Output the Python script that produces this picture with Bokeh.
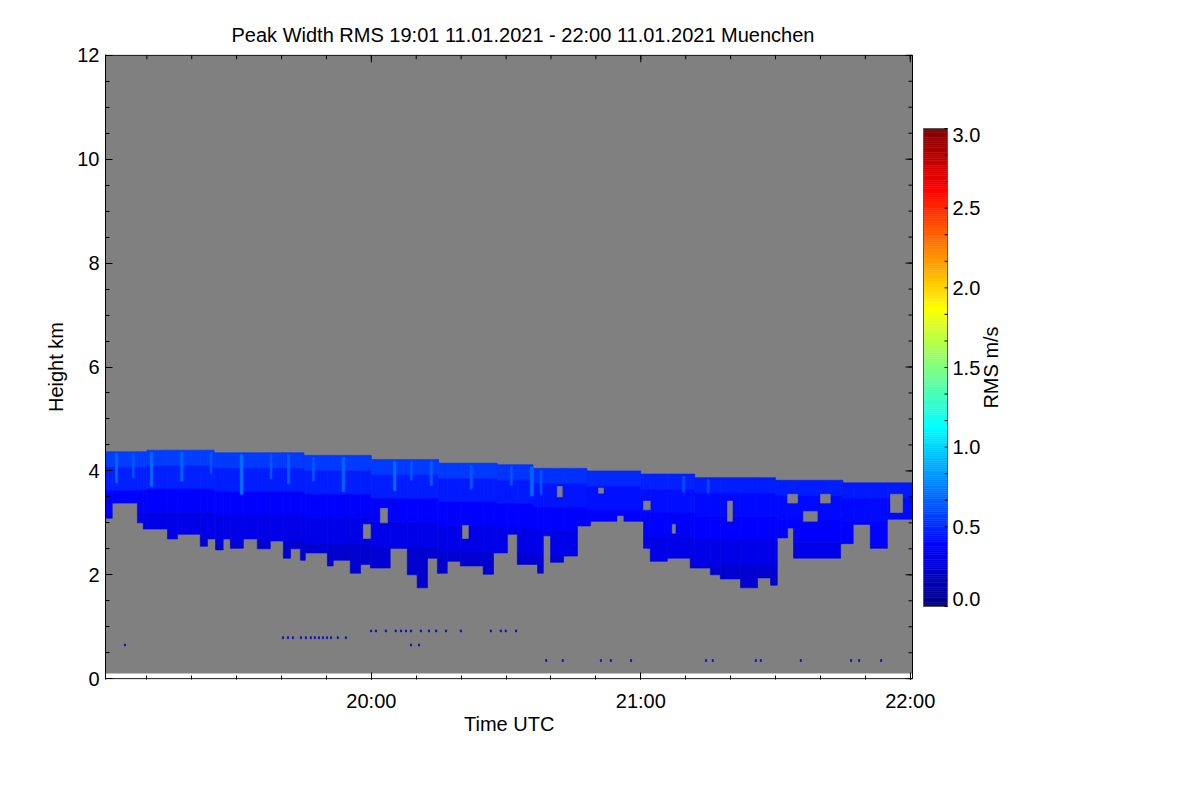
import numpy as np
from bokeh.plotting import figure
from bokeh.models import Range1d, FixedTicker, LinearAxis, ColumnDataSource, Title
from bokeh.transform import linear_cmap
from bokeh.embed import file_html
from bokeh.resources import INLINE
from bokeh.core.properties import value

# ---------------- data ----------------
title_text = "Peak Width RMS   19:01 11.01.2021 - 22:00 11.01.2021 Muenchen"
x_label = "Time UTC"
y_label = "Height km"
cbar_label = "RMS m/s"

scan_start_min = 0.8      # minutes after 19:00 UTC
scan_end_min = 180.5
lowest_gate_km = 0.1
highest_gate_km = 12.0

tick_minutes = [60, 120, 180]
tick_labels = ["20:00", "21:00", "22:00"]
minor_tick_minutes = list(range(10, 181, 10))
height_ticks = [0, 2, 4, 6, 8, 10, 12]
height_minor_ticks = [i * 0.5 for i in range(25)]

rms_min, rms_max = 0.0, 3.0
cbar_levels = [0.0, 0.5, 1.0, 1.5, 2.0, 2.5, 3.0]

# cloud top (segment start time, height) and RMS of the two upper layers
top_start_min = [0.8, 10, 25, 45, 60, 75, 88, 96, 108, 120, 132, 150, 165]
top_km = [4.37, 4.40, 4.35, 4.30, 4.22, 4.15, 4.12, 4.05, 4.00, 3.94, 3.87, 3.82, 3.77]
top_layer_rms = [0.56, 0.56, 0.55, 0.55, 0.54, 0.54, 0.53, 0.52, 0.50, 0.48, 0.46, 0.46, 0.45]
second_layer_rms = [0.47, 0.47, 0.46, 0.46, 0.46, 0.45, 0.45, 0.44, 0.43, 0.42, 0.41, 0.41, 0.41]

# depth of layers below the cloud top (km) and RMS of the deeper layers
layer_depth_km = [0.0, 0.3, 0.75, 1.2, 1.7, 9.0]
lower_layer_rms = [0.38, 0.31, 0.24]

# light streaks near the cloud top (time, width in min, depth in km, rms)
streak_min = [3.0, 6.8, 10.8, 17.5, 24.1, 30.8, 37.5, 41.3, 46.9, 53.5,
              64.9, 68.7, 73.1, 82.0, 91.0, 95.4, 97.6, 129.3, 134.8]
streak_width_min = [0.5, 0.4, 0.5, 0.6, 0.4, 0.6, 0.4, 0.5, 0.4, 0.6,
                    0.6, 0.4, 0.5, 0.5, 0.4, 0.7, 0.4, 0.5, 0.4]
streak_depth_km = [0.6, 0.5, 0.7, 0.6, 0.45, 0.8, 0.5, 0.6, 0.5, 0.7,
                   0.6, 0.4, 0.5, 0.5, 0.4, 0.6, 0.5, 0.35, 0.3]
streak_rms = [0.68, 0.64, 0.7, 0.66, 0.64, 0.72, 0.64, 0.66, 0.64, 0.68,
              0.7, 0.64, 0.66, 0.64, 0.64, 0.68, 0.64, 0.62, 0.6]

# cloud base / fall-streak lowest extent (segment start time, height)
base_start_min = [0.8, 2.3, 7.9, 9.2, 14.6, 16.8, 21.9, 23.5, 25.3, 27.0,
                  28.6, 31.5, 34.6, 37.5, 40.4, 42.0, 44.2, 45.3, 50.2, 51.5,
                  55.3, 57.6, 59.8, 64.2, 68.0, 70.2, 72.5, 74.7, 76.9, 79.8,
                  84.9, 87.2, 90.3, 92.5, 97.0, 98.3, 99.9, 102.8, 105.9, 108.8,
                  120.6, 122.1, 125.9, 131.0, 135.5, 137.7, 142.2, 146.0, 148.9, 150.4,
                  152.7, 154.0, 164.5, 167.3, 171.1, 174.9]
base_km = [3.09, 3.38, 3.00, 2.88, 2.69, 2.78, 2.55, 2.69, 2.48, 2.69,
           2.51, 2.69, 2.50, 2.65, 2.32, 2.50, 2.28, 2.42, 2.17, 2.28,
           2.03, 2.20, 2.13, 2.51, 2.00, 1.75, 2.32, 2.03, 2.26, 2.17,
           2.01, 2.42, 2.78, 2.20, 2.03, 2.75, 2.24, 2.36, 2.94, 3.03,
           2.51, 2.26, 2.32, 2.13, 2.00, 1.92, 1.75, 1.94, 1.80, 2.71,
           2.90, 2.32, 2.60, 2.97, 2.51, 3.07]

# gaps (no signal) inside the cloud
hole_start_min = [58.2, 62.0, 80.3, 101.4, 110.6, 114.8, 120.6, 127.0, 139.3, 152.7, 156.2, 160.0, 175.6]
hole_end_min = [59.8, 63.6, 81.6, 102.5, 111.7, 116.1, 122.1, 127.7, 140.4, 154.9, 159.3, 162.2, 178.3]
hole_bottom_km = [2.70, 3.00, 2.70, 3.50, 3.57, 2.97, 3.25, 2.80, 3.03, 3.38, 3.03, 3.38, 3.20]
hole_top_km = [2.97, 3.28, 2.95, 3.70, 3.67, 3.13, 3.42, 2.97, 3.42, 3.55, 3.22, 3.55, 3.55]

# isolated low echoes
dot_min = [5.0,
           40.2, 41.3, 42.4, 44.2, 45.3, 46.4, 47.3, 48.2, 49.1, 50.0, 50.9, 52.4, 54.2,
           59.8, 60.9, 63.1, 65.3, 66.5, 67.6, 68.7, 70.9, 72.7, 74.3, 76.5, 79.8, 86.5, 88.7, 89.8, 92.1,
           68.7, 70.5,
           98.8, 102.5, 111.0, 113.2, 117.7, 134.4, 135.9, 145.5, 146.6, 155.5, 166.7, 168.5, 173.4]
dot_km = [0.65,
          0.79, 0.79, 0.79, 0.79, 0.79, 0.79, 0.79, 0.79, 0.79, 0.79, 0.79, 0.79, 0.79,
          0.92, 0.92, 0.92, 0.92, 0.92, 0.92, 0.92, 0.92, 0.92, 0.92, 0.92, 0.92, 0.92, 0.92, 0.92, 0.92,
          0.65, 0.65,
          0.35, 0.35, 0.35, 0.35, 0.35, 0.35, 0.35, 0.35, 0.35, 0.35, 0.35, 0.35, 0.35]
dot_rms = 0.2

# ---------------- layout / styling ----------------
FONT = "Liberation Sans"
FS = "20px"
GRAY = "#808080"
FIG_W, FIG_H = 1015, 748
B_LEFT, B_RIGHT, B_TOP, B_BOTTOM = 105, 5, 54, 69
DATA_W_PX = 807                      # width of the data box in pixels
FRAME_W = FIG_W - B_LEFT - B_RIGHT   # frame also holds the colour bar
FRAME_H = FIG_H - B_TOP - B_BOTTOM
ppm = DATA_W_PX / (scan_end_min - scan_start_min)      # px per minute
y_pad = 0.015
y0, y1 = -y_pad, highest_gate_km + y_pad
ppk = FRAME_H / (y1 - y0)                              # px per km
x_end = scan_start_min + FRAME_W / ppm


def px_x(dx):   # horizontal offset in pixels -> minutes
    return dx / ppm


def px_y(dy):   # vertical offset in pixels -> km
    return dy / ppk


def jet(n=256):
    v = np.linspace(0, 1, n)
    r = np.clip(1.5 - np.abs(4 * v - 3), 0, 1)
    g = np.clip(1.5 - np.abs(4 * v - 2), 0, 1)
    b = np.clip(1.5 - np.abs(4 * v - 1), 0, 1)
    return ["#%02x%02x%02x" % (int(round(rr * 255)), int(round(gg * 255)), int(round(bb * 255)))
            for rr, gg, bb in zip(r, g, b)]


PALETTE = jet(256)

# ---------------- build cloud quads ----------------
edges = sorted(set(top_start_min) | set(base_start_min) | {scan_end_min})
edges = [e for e in edges if scan_start_min <= e <= scan_end_min]
q = dict(left=[], right=[], bottom=[], top=[], rms=[])


def add(l, r, b, t, v):
    q["left"].append(l); q["right"].append(r)
    q["bottom"].append(b); q["top"].append(t); q["rms"].append(v)


for a, b in zip(edges[:-1], edges[1:]):
    it = int(np.searchsorted(top_start_min, a, side="right") - 1)
    ib = int(np.searchsorted(base_start_min, a, side="right") - 1)
    ct, cb = top_km[it], base_km[ib]
    rms_layers = [top_layer_rms[it], second_layer_rms[it]] + lower_layer_rms
    for k, r in enumerate(rms_layers):
        lt = ct - layer_depth_km[k]
        lb = max(ct - layer_depth_km[k + 1], cb)
        if lb < lt:
            add(a, b, lb, lt, r)

for t, w, d, r in zip(streak_min, streak_width_min, streak_depth_km, streak_rms):
    it = int(np.searchsorted(top_start_min, t, side="right") - 1)
    add(t, t + w, top_km[it] - d, top_km[it] - 0.04, r)

for t, h in zip(dot_min, dot_km):
    add(t, t + 0.25, h - 0.02, h + 0.02, dot_rms)

cloud_src = ColumnDataSource(q)
cmap = linear_cmap("rms", PALETTE, rms_min, rms_max)

# ---------------- figure ----------------
p = figure(width=FIG_W, height=FIG_H, output_backend="svg", toolbar_location=None,
           x_range=Range1d(scan_start_min, x_end), y_range=Range1d(y0, y1),
           min_border_left=B_LEFT, min_border_right=B_RIGHT,
           min_border_top=B_TOP, min_border_bottom=B_BOTTOM,
           x_axis_location=None, y_axis_location=None)
p.background_fill_color = "white"
p.border_fill_color = "white"
p.outline_line_color = None
p.grid.visible = False

# data box
p.quad(left=[scan_start_min], right=[scan_end_min], bottom=[lowest_gate_km], top=[highest_gate_km],
       fill_color=GRAY, line_color=None)
p.quad(left="left", right="right", bottom="bottom", top="top", source=cloud_src,
       fill_color=cmap, line_color=cmap, line_width=0.6)
p.quad(left=hole_start_min, right=hole_end_min, bottom=hole_bottom_km, top=hole_top_km,
       fill_color=GRAY, line_color=GRAY, line_width=0.6)

# box lines (bottom, top, right); left is the y axis line
p.segment(x0=[scan_start_min, scan_start_min, scan_end_min], x1=[scan_end_min, scan_end_min, scan_end_min],
          y0=[0.0, highest_gate_km, 0.0], y1=[0.0, highest_gate_km, highest_gate_km],
          line_color="black", line_width=1)

# mirrored ticks on top and right
MAJ, MIN = 7, 4
tx = tick_minutes + minor_tick_minutes
tl = [MAJ] * len(tick_minutes) + [MIN] * len(minor_tick_minutes)
p.segment(x0=tx, x1=tx, y0=[highest_gate_km] * len(tx),
          y1=[highest_gate_km - px_y(L) for L in tl], line_color="black", line_width=1)
hy = height_ticks + height_minor_ticks
hl = [MAJ] * len(height_ticks) + [MIN] * len(height_minor_ticks)
p.segment(x0=[scan_end_min] * len(hy), x1=[scan_end_min - px_x(L) for L in hl], y0=hy, y1=hy,
          line_color="black", line_width=1)

xt = FixedTicker(ticks=tick_minutes, minor_ticks=minor_tick_minutes)
yt = FixedTicker(ticks=height_ticks, minor_ticks=height_minor_ticks)


def style_axis(ax):
    ax.major_tick_in = MAJ
    ax.major_tick_out = 0
    ax.minor_tick_in = MIN
    ax.minor_tick_out = 0
    ax.axis_line_color = "black"
    ax.major_tick_line_color = "black"
    ax.minor_tick_line_color = "black"
    ax.major_label_text_font = FONT
    ax.major_label_text_font_size = FS
    ax.major_label_text_color = "black"
    ax.axis_label_text_font = FONT
    ax.axis_label_text_font_size = FS
    ax.axis_label_text_font_style = "normal"
    ax.axis_label_text_color = "black"


xb = LinearAxis(ticker=xt,
                major_label_overrides={t: s for t, s in zip(tick_minutes, tick_labels)})
style_axis(xb)
xb.axis_line_color = None
xb.major_label_standoff = 10
p.add_layout(xb, "below")

# x axis label centred under the data box (not under the whole frame)
xlab = Title(text=x_label, align="left", offset=(DATA_W_PX / 2) - 45, standoff=-8,
             text_font=FONT, text_font_size=FS, text_font_style="normal", text_color="black")
p.add_layout(xlab, "below")

yl = LinearAxis(ticker=yt, axis_label=y_label)
style_axis(yl)
yl.major_label_standoff = 6
yl.axis_label_standoff = 7
p.add_layout(yl, "left")

p.title.text = title_text
p.title.align = "left"
p.title.offset = 126
p.title.text_font = FONT
p.title.text_font_size = FS
p.title.text_font_style = "normal"
p.title.text_color = "black"
p.title.standoff = 17

# ---------------- colour bar (drawn in the frame, right of the data box) ----------------
cb_left = scan_end_min + px_x(11)
cb_right = cb_left + px_x(24)
cb_top = y1 - px_y(74)
cb_bottom = y1 - px_y(552)


def rms_to_y(v):
    return cb_bottom + (np.asarray(v, dtype=float) - rms_min) / (rms_max - rms_min) * (cb_top - cb_bottom)


lv = np.linspace(rms_min, rms_max, len(PALETTE) + 1)
p.quad(left=cb_left, right=cb_right, bottom=rms_to_y(lv[:-1]), top=rms_to_y(lv[1:]),
       fill_color=PALETTE, line_color=PALETTE, line_width=0.5)
p.quad(left=[cb_left], right=[cb_right], bottom=[cb_bottom], top=[cb_top],
       fill_color=None, line_color="#5a5a5a", line_width=1)

cb_minor = np.arange(rms_min, rms_max + 1e-9, 0.5 / 3)
p.segment(x0=cb_right - px_x(3), x1=cb_right, y0=rms_to_y(cb_minor), y1=rms_to_y(cb_minor),
          line_color="black", line_width=1)

label_pos = np.clip(np.array(cbar_levels), 0.05, 2.96)
p.text(x=cb_left + px_x(29), y=rms_to_y(label_pos), text=["%.1f" % v for v in cbar_levels],
       text_font=value(FONT), text_font_size=value(FS), text_align="left", text_baseline="middle",
       text_color="black")
p.text(x=[cb_left + px_x(67)], y=rms_to_y([1.5]), text=[cbar_label], angle=np.pi / 2,
       text_font=value(FONT), text_font_size=value(FS), text_align="center", text_baseline="middle",
       text_color="black")

open("out.html", "w").write(file_html(p, INLINE))
